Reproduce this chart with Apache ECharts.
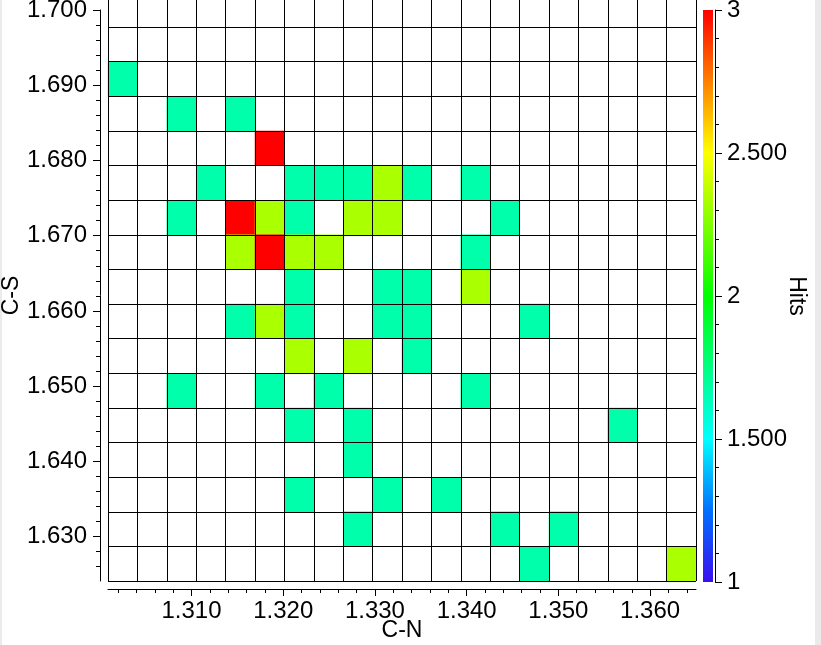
<!DOCTYPE html>
<html>
<head>
<meta charset="utf-8">
<script src="https://cdn.jsdelivr.net/npm/echarts@6/dist/echarts.min.js"></script>
<style>
html,body{margin:0;padding:0;background:#fff;}
#chart{width:821px;height:645px;}
</style>
</head>
<body>
<div id="chart"></div>
<script>
// C-N bins (bin centres), 20 bins
const cnBins = ['1.3025','1.3057','1.3089','1.3121','1.3153','1.3185','1.3217','1.3249','1.3281','1.3314',
                '1.3346','1.3378','1.3410','1.3442','1.3474','1.3506','1.3538','1.3570','1.3602','1.3634'];
// C-S bins (bin centres), 17 bins, bottom to top
const csBins = ['1.6264','1.6310','1.6356','1.6402','1.6448','1.6494','1.6540','1.6586','1.6632',
                '1.6678','1.6724','1.6770','1.6816','1.6862','1.6908','1.6954','1.7000'];
// occupied cells: [C-N bin index, C-S bin index, hits]
const cells = [
  [0,14,1],
  [2,13,1],[4,13,1],
  [5,12,3],
  [3,11,1],[6,11,1],[7,11,1],[8,11,1],[9,11,2],[10,11,1],[12,11,1],
  [2,10,1],[4,10,3],[5,10,2],[6,10,1],[8,10,2],[9,10,2],[13,10,1],
  [4,9,2],[5,9,3],[6,9,2],[7,9,2],[12,9,1],
  [6,8,1],[9,8,1],[10,8,1],[12,8,2],
  [4,7,1],[5,7,2],[6,7,1],[9,7,1],[10,7,1],[14,7,1],
  [6,6,2],[8,6,2],[10,6,1],
  [2,5,1],[5,5,1],[7,5,1],[12,5,1],
  [6,4,1],[8,4,1],[17,4,1],
  [8,3,1],
  [6,2,1],[9,2,1],[11,2,1],
  [8,1,1],[13,1,1],[15,1,1],
  [14,0,1],[19,0,2]
];
const cnRange = [1.3009, 1.3650];
const csRange = [1.6241, 1.7000];
const cnTicks = [1.31, 1.32, 1.33, 1.34, 1.35, 1.36];
const csTicks = [1.63, 1.64, 1.65, 1.66, 1.67, 1.68, 1.69, 1.70];
const hitsRange = [1, 3];
const hitsTicks = [1, 1.5, 2, 2.5, 3];
const hitsLabels = ['1', '1.500', '2', '2.500', '3'];
const hitColors = {1: '#00FFAA', 2: '#AAFF00', 3: '#FF0000'};

function minorTicks(lo, hi, step) {
  const out = [];
  const n = Math.round((hi - lo) / step);
  for (let k = 0; k <= n; k++) {
    const v = Math.round((lo + k * step) * 1000) / 1000;
    if (Math.round(v * 1000) % 10 !== 0) out.push(v);
  }
  return out;
}
const cnMinor = minorTicks(1.302, 1.364, 0.002);
const csMinor = minorTicks(1.626, 1.698, 0.002);

const FONT = 'Liberation Sans, Arial, Helvetica, sans-serif';
const black = {color: '#000', width: 1};
const noBounds = {outerBoundsMode: 'none', containLabel: false};

const chart = echarts.init(document.getElementById('chart'), null, {renderer: 'canvas'});
chart.setOption({
  animation: false,
  backgroundColor: '#fff',
  graphic: [
    {type: 'rect', left: 0, top: 0, shape: {width: 2, height: 645}, style: {fill: '#ebebeb'}, silent: true},
    {type: 'rect', left: 815, top: 0, shape: {width: 6, height: 645}, style: {fill: '#ebebeb'}, silent: true}
  ],
  grid: [
    Object.assign({left: 108, right: 125, top: 10, bottom: 64}, noBounds),
    Object.assign({left: 108, right: 125, top: -7.5, bottom: 64}, noBounds),
    Object.assign({left: 703, width: 10, top: 10, bottom: 63}, noBounds)
  ],
  visualMap: [{
    type: 'piecewise', show: false, seriesIndex: 0, dimension: 2,
    pieces: Object.keys(hitColors).map(k => ({value: +k, color: hitColors[k]}))
  }],
  xAxis: [
    {
      type: 'value', gridIndex: 0, position: 'bottom', offset: 8,
      min: cnRange[0], max: cnRange[1],
      axisLine: {show: true, onZero: false, lineStyle: black},
      axisTick: {show: true, customValues: cnTicks, length: 7, lineStyle: black},
      axisLabel: {customValues: cnTicks, formatter: v => v.toFixed(3), fontSize: 24, color: '#000', fontFamily: FONT, margin: 10},
      splitLine: {show: false},
      name: 'C-N', nameLocation: 'middle', nameGap: 30, nameMoveOverlap: false,
      nameTextStyle: {fontSize: 23, color: '#000', fontFamily: FONT}
    },
    {
      type: 'value', gridIndex: 0, position: 'bottom', offset: 8,
      min: cnRange[0], max: cnRange[1],
      axisLine: {show: false, onZero: false},
      axisTick: {show: true, customValues: cnMinor, length: 4, lineStyle: black},
      axisLabel: {show: false},
      splitLine: {show: false}
    },
    {
      type: 'category', gridIndex: 1, data: cnBins, z: 5,
      axisLine: {show: false}, axisTick: {show: false}, axisLabel: {show: false},
      splitLine: {show: true, interval: 0, lineStyle: black}
    },
    {
      type: 'category', gridIndex: 2, data: [''], show: false
    }
  ],
  yAxis: [
    {
      type: 'value', gridIndex: 0, position: 'left', offset: 8,
      min: csRange[0], max: csRange[1],
      axisLine: {show: true, onZero: false, lineStyle: black},
      axisTick: {show: true, customValues: csTicks, length: 7, lineStyle: black},
      axisLabel: {customValues: csTicks, formatter: v => v.toFixed(3), fontSize: 24, color: '#000', fontFamily: FONT, margin: 13},
      splitLine: {show: false},
      name: 'C-S', nameLocation: 'middle', nameGap: 77, nameMoveOverlap: false,
      nameTextStyle: {fontSize: 23, color: '#000', fontFamily: FONT}
    },
    {
      type: 'value', gridIndex: 0, position: 'left', offset: 8,
      min: csRange[0], max: csRange[1],
      axisLine: {show: false, onZero: false},
      axisTick: {show: true, customValues: csMinor, length: 4, lineStyle: black},
      axisLabel: {show: false},
      splitLine: {show: false}
    },
    {
      type: 'category', gridIndex: 1, data: csBins, z: 5,
      axisLine: {show: false}, axisTick: {show: false}, axisLabel: {show: false},
      splitLine: {show: true, interval: 0, lineStyle: black}
    },
    {
      type: 'value', gridIndex: 2, position: 'right', offset: 2,
      min: hitsRange[0], max: hitsRange[1], interval: 0.5,
      axisLine: {show: true, onZero: false, lineStyle: black},
      axisTick: {show: true, length: 7, lineStyle: black},
      minorTick: {show: true, splitNumber: 5, length: 4, lineStyle: black},
      axisLabel: {
        formatter: v => { const i = hitsTicks.indexOf(+v.toFixed(3)); return i >= 0 ? hitsLabels[i] : ''; },
        fontSize: 24, color: '#000', fontFamily: FONT, margin: 12
      },
      splitLine: {show: false},
      name: 'Hits', nameLocation: 'middle', nameGap: 70, nameRotate: -90, nameMoveOverlap: false,
      nameTextStyle: {fontSize: 23, color: '#000', fontFamily: FONT}
    }
  ],
  series: [
    {
      type: 'heatmap', xAxisIndex: 2, yAxisIndex: 2, data: cells,
      itemStyle: {borderWidth: 0}, emphasis: {disabled: true}, silent: true
    },
    {
      type: 'bar', xAxisIndex: 3, yAxisIndex: 3, stack: 'cb', barWidth: '100%', silent: true,
      data: [hitsRange[0]], itemStyle: {color: 'rgba(0,0,0,0)'}
    },
    {
      type: 'bar', xAxisIndex: 3, yAxisIndex: 3, stack: 'cb', barWidth: '100%', silent: true,
      data: [hitsRange[1] - hitsRange[0]],
      itemStyle: {color: new echarts.graphic.LinearGradient(0, 0, 0, 1, [
        {offset: 0, color: '#ff0000'},
        {offset: 0.125, color: '#ff8000'},
        {offset: 0.25, color: '#ffff00'},
        {offset: 0.375, color: '#80ff00'},
        {offset: 0.5, color: '#00ff00'},
        {offset: 0.625, color: '#00ff80'},
        {offset: 0.75, color: '#00ffff'},
        {offset: 0.875, color: '#0070ff'},
        {offset: 1, color: '#3a10f0'}
      ])}
    }
  ]
});
</script>
</body>
</html>
